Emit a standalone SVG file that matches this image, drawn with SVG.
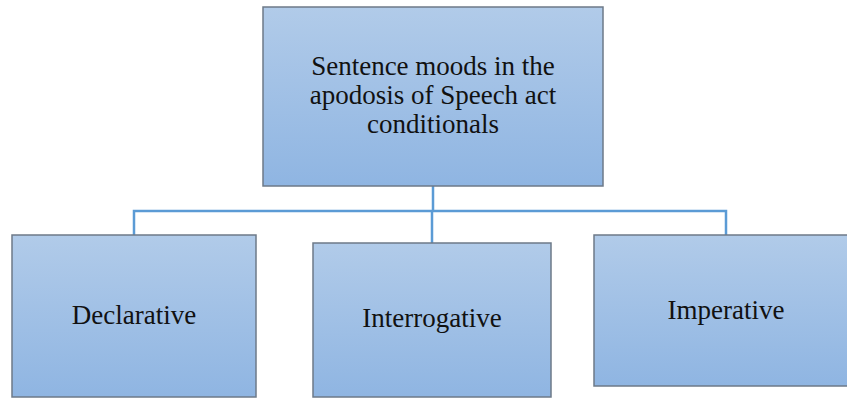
<svg xmlns="http://www.w3.org/2000/svg" width="847" height="398" viewBox="0 0 847 398">
  <defs>
    <linearGradient id="boxFill" x1="0" y1="0" x2="0" y2="1">
      <stop offset="0" stop-color="#b1cbe9"/>
      <stop offset="1" stop-color="#8fb5e2"/>
    </linearGradient>
    <style>
      .box { fill: url(#boxFill); stroke: #6d7a88; stroke-width: 1.5; }
      .label { font-family: "Liberation Serif", "Times New Roman", serif; font-size: 27px; fill: #111; text-anchor: middle; }
      .link { fill: none; stroke: #5b9bd5; stroke-width: 2.5; }
    </style>
  </defs>
  <rect width="847" height="398" fill="#ffffff"/>

  <g id="connectors">
    <path class="link" d="M433 186 V211"/>
    <path class="link" d="M134 235 V211 H726 V235"/>
    <path class="link" d="M432 211 V243"/>
  </g>

  <g id="root">
    <rect class="box" x="263" y="7" width="340" height="179"/>
    <text class="label" x="433" y="75">Sentence moods in the</text>
    <text class="label" x="433" y="104">apodosis of Speech act</text>
    <text class="label" x="433" y="133">conditionals</text>
  </g>

  <g id="declarative">
    <rect class="box" x="12" y="235" width="244" height="162"/>
    <text class="label" x="134" y="324">Declarative</text>
  </g>

  <g id="interrogative">
    <rect class="box" x="313" y="243" width="238" height="154"/>
    <text class="label" x="432" y="327">Interrogative</text>
  </g>

  <g id="imperative">
    <rect class="box" x="594" y="235" width="260" height="151"/>
    <text class="label" x="726" y="319">Imperative</text>
  </g>
</svg>
